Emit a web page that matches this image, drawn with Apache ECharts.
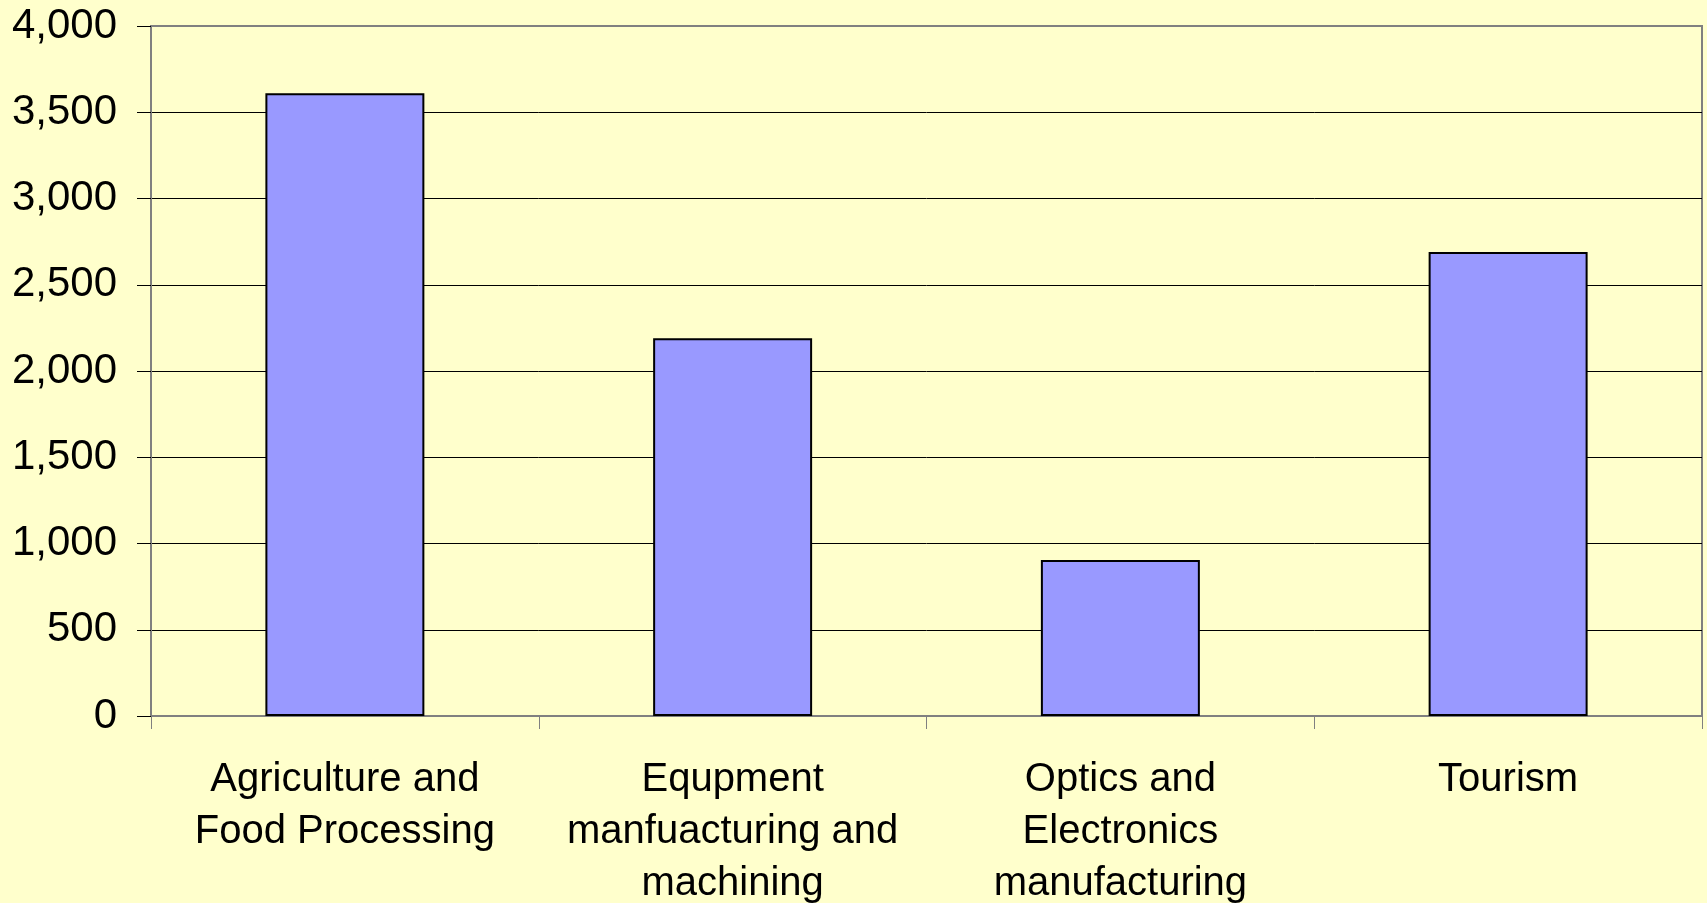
<!DOCTYPE html>
<html>
<head>
<meta charset="utf-8">
<script src="https://cdn.jsdelivr.net/npm/echarts@6/dist/echarts.min.js"></script>
<style>
  html, body { margin: 0; padding: 0; background: #FFFFCC; }
  #chart { width: 1707px; height: 903px; }
</style>
</head>
<body>
<div id="chart"></div>
<script>
  // categories (typos kept as in the original)
  var categories = [
    'Agriculture and\nFood Processing',
    'Equpment\nmanfuacturing and\nmachining',
    'Optics and\nElectronics\nmanufacturing',
    'Tourism'
  ];
  var values = [3610, 2190, 905, 2690];
  var yTicks = { min: 0, max: 4000, step: 500 };

  var chart = echarts.init(document.getElementById('chart'));
  chart.setOption({
    backgroundColor: '#FFFFCC',
    animation: false,
    grid: {
      left: 151, right: 5, top: 26, bottom: 187,
      containLabel: false,
      outerBoundsMode: 'none',
      show: true,
      borderColor: '#808080',
      borderWidth: 2
    },
    xAxis: {
      type: 'category',
      data: categories,
      axisLine: { lineStyle: { color: '#808080', width: 2 } },
      axisTick: { show: true, length: 13, lineStyle: { color: '#808080', width: 1 } },
      axisLabel: {
        interval: 0,
        margin: 38,
        color: '#000',
        fontFamily: 'Liberation Sans, Arial, sans-serif',
        fontSize: 40,
        lineHeight: 52
      }
    },
    yAxis: {
      type: 'value',
      min: yTicks.min,
      max: yTicks.max,
      interval: yTicks.step,
      axisLine: { show: true, lineStyle: { color: '#808080', width: 2 } },
      axisTick: { show: true, length: 14, lineStyle: { color: '#000' } },
      axisLabel: {
        margin: 34,
        color: '#000',
        fontFamily: 'Liberation Sans, Arial, sans-serif',
        fontSize: 42,
        formatter: function (v) { return v.toLocaleString('en-US'); }
      },
      splitLine: {
        show: true,
        lineStyle: {
          color: ['#808080', '#000', '#000', '#000', '#000', '#000', '#000', '#000', '#808080'],
          width: 1
        }
      }
    },
    series: [{
      type: 'bar',
      data: values,
      barWidth: '41%',
      itemStyle: {
        color: '#9999FF',
        borderColor: '#000',
        borderWidth: 2
      }
    }]
  });
</script>
</body>
</html>
